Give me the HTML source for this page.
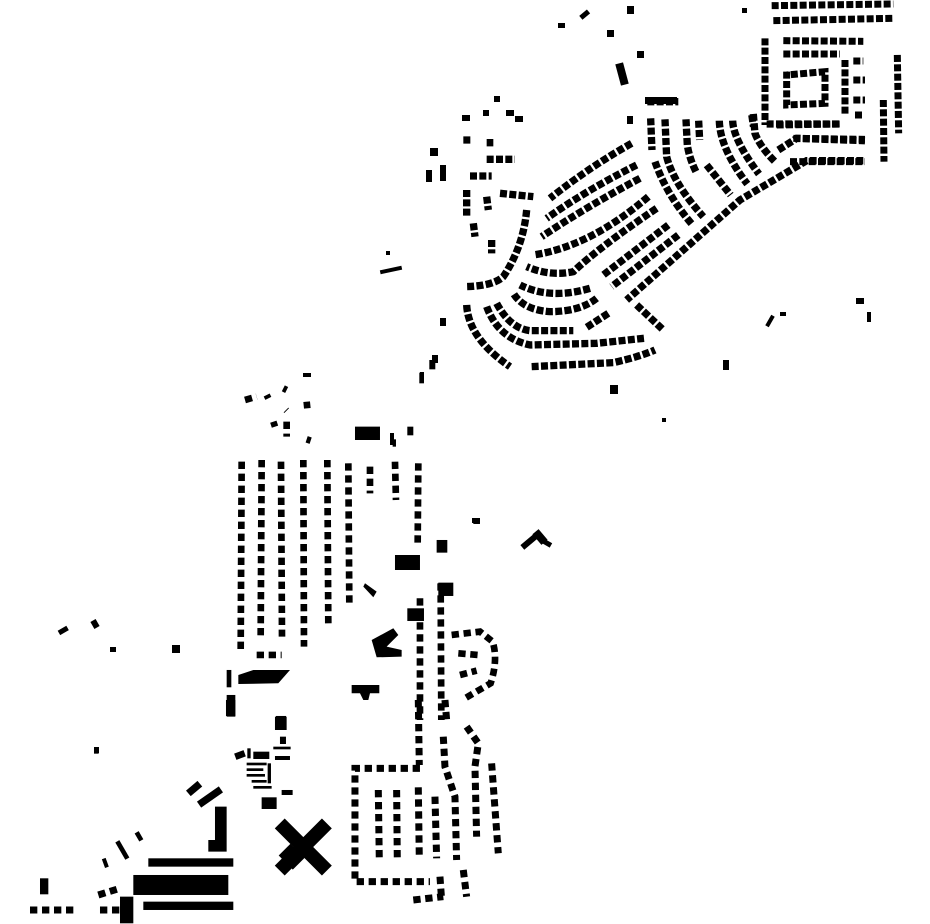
<!DOCTYPE html>
<html><head><meta charset="utf-8"><style>html,body{margin:0;padding:0;background:#fff}svg{display:block}</style></head>
<body>
<svg width="930" height="924" viewBox="0 0 930 924" xmlns="http://www.w3.org/2000/svg">
<rect width="930" height="924" fill="#fff"/>
<g transform="translate(440,90) scale(0.3333)" fill="none" stroke="#000" stroke-width="22" stroke-dasharray="21 7">
<path d="M575,160 Q450,230 330,325"/>
<path d="M590,225 Q440,300 320,385"/>
<path d="M600,265 Q440,350 305,440"/>
<path d="M625,320 Q450,470 280,495"/>
<path d="M650,355 Q480,470 400,545 Q330,560 260,530"/>
<path d="M685,405 L490,555"/>
<path d="M715,435 L515,590"/>
<path d="M450,595 Q330,630 240,585"/>
<path d="M470,625 Q420,665 330,665 Q250,660 220,610"/>
<path d="M260,360 Q250,470 190,560 Q160,588 75,590"/>
<path d="M170,640 Q210,715 270,722 L400,722"/>
<path d="M505,670 L440,712"/>
<path d="M140,650 Q175,745 270,765 L470,760 L612,745"/>
<path d="M80,645 Q85,745 210,830"/>
<path d="M275,830 L520,818 Q600,800 645,780"/>
<path d="M1270,212 L1100,212 L900,330 L560,630"/>
<path d="M590,645 L670,720"/>
<path d="M632,85 L636,180"/>
<path d="M675,88 L680,200 Q700,280 790,380"/>
<path d="M645,215 Q680,315 758,405"/>
<path d="M738,88 L742,165 Q748,205 768,245"/>
<path d="M776,92 L779,150"/>
<path d="M800,225 L872,315"/>
<path d="M838,92 Q840,175 922,282"/>
<path d="M878,92 Q880,150 957,252"/>
<path d="M940,72 L945,130 Q960,170 1005,215"/>
<path d="M1015,180 L1070,145 L1275,152"/>
<path d="M980,102 L1200,102"/>
<path d="M622,35 L715,35"/>
<path d="M70,150 L95,150 M140,158 L160,158 M140,208 L225,208 M90,258 L155,258 M180,310 L280,320"/>
<path d="M80,300 L80,380 M140,320 L145,360 M100,400 L105,440 M155,450 L155,490"/>
</g>
<g transform="translate(740,0) scale(0.3333)" fill="none" stroke="#000" stroke-width="21" stroke-dasharray="21 7">
<path d="M95,17 L460,12"/>
<path d="M100,62 L460,55"/>
<path d="M75,115 L75,375"/>
<path d="M130,122 L370,124"/>
<path d="M130,162 L300,162"/>
<path d="M140,215 L140,315 L255,310 L255,215 L140,225"/>
<path d="M315,180 L315,345"/>
<path d="M340,183 L370,183 M340,240 L375,240 M340,300 L375,300 M345,345 L370,345"/>
<path d="M472,165 L476,400"/>
<path d="M430,300 L432,485"/>
<path d="M110,375 L300,372"/>
<path d="M160,415 L375,418"/>
<path d="M150,485 L375,485"/>
<path d="M35,345 L40,380"/>
</g>
<g transform="translate(220,360) scale(0.3333)" fill="none" stroke="#000" stroke-width="20" stroke-dasharray="22 14">
<path d="M65,305 L62,880"/>
<path d="M125,300 L122,835"/>
<path d="M183,305 L186,830"/>
<path d="M250,300 L252,860"/>
<path d="M322,300 L325,800"/>
<path d="M385,310 L388,730"/>
<path d="M450,320 L450,400"/>
<path d="M525,305 L528,420"/>
<path d="M595,310 L593,560"/>
<path d="M600,715 L600,1080"/>
<path d="M662,670 L664,1080"/>
<path d="M695,825 L780,815 L818,845 Q835,900 812,970 L735,1015"/>
<path d="M715,880 L775,885 M720,945 L770,932"/>
<path d="M110,885 L185,885"/>
<path d="M75,120 L110,110 M140,105 L145,115 M190,85 L200,90 M260,125 L262,145 M198,150 L200,152 M160,185 L165,200 M200,185 L200,230 M260,238 L272,242"/>
</g>
<g transform="translate(220,360) scale(0.3333)" fill="#000">
<path d="M405,200 L480,200 L480,240 L405,240Z"/>
<path d="M525,585 L600,585 L600,630 L525,630Z"/>
<path d="M55,945 L100,930 L210,930 L175,970 L55,972Z"/>
<path d="M395,975 L478,975 L478,1000 L450,1000 L445,1020 L430,1020 L420,1000 L395,1000Z"/>
<path d="M455,840 L520,805 L535,825 L500,860 L545,870 L545,890 L470,892Z"/>
<path d="M435,670 L470,695 L460,712 L430,680Z"/>
<rect x="20" y="930" width="14" height="52"/>
<rect x="20" y="1005" width="26" height="65"/>
<rect x="628" y="0" width="18" height="28"/>
<rect x="598" y="38" width="14" height="32"/>
<rect x="562" y="200" width="18" height="26"/>
<rect x="518" y="238" width="10" height="22"/>
<rect x="760" y="478" width="20" height="14"/>
<rect x="650" y="540" width="32" height="38"/>
<rect x="655" y="668" width="45" height="40"/>
<rect x="562" y="745" width="50" height="38"/>
<rect x="168" y="1068" width="30" height="12"/>
</g>
<g transform="translate(20,700) scale(0.3333)" fill="none" stroke="#000" stroke-width="21" stroke-dasharray="22 14">
<path d="M1200,205 L1005,205 L1005,545 L1230,545"/>
<path d="M1075,270 L1078,480"/>
<path d="M1130,270 L1132,480"/>
<path d="M1195,262 L1198,475"/>
<path d="M1245,290 L1250,475"/>
<path d="M1195,0 L1198,195"/>
<path d="M1275,0 L1280,60"/>
<path d="M1270,110 L1275,200 L1305,290 L1310,480"/>
<path d="M1340,80 L1375,130 L1365,200 L1370,410"/>
<path d="M1415,190 L1435,460"/>
<path d="M1330,510 L1340,590"/>
<path d="M1180,600 L1270,590"/>
<path d="M1260,530 L1265,600"/>
<path d="M30,630 L165,630"/>
<path d="M240,630 L300,630"/>
<path d="M235,585 L300,565"/>
</g>
<g transform="translate(20,700) scale(0.3333)" fill="#000">
<path d="M565,320 L620,320 L620,455 L565,455 L565,420 L585,420 L585,320Z"/>
<rect x="385" y="475" width="255" height="25"/>
<rect x="340" y="525" width="285" height="60"/>
<rect x="370" y="605" width="270" height="25"/>
<rect x="300" y="590" width="40" height="80"/>
<rect x="618" y="0" width="28" height="48"/>
<rect x="765" y="50" width="35" height="40"/>
<rect x="780" y="110" width="18" height="22"/>
<rect x="760" y="140" width="52" height="8"/>
<rect x="765" y="168" width="45" height="12"/>
<rect x="700" y="155" width="48" height="22"/>
<rect x="682" y="145" width="10" height="30"/>
<rect x="680" y="188" width="60" height="8"/>
<rect x="680" y="205" width="50" height="8"/>
<rect x="680" y="222" width="55" height="8"/>
<rect x="695" y="240" width="45" height="8"/>
<rect x="743" y="190" width="10" height="60"/>
<rect x="700" y="258" width="55" height="8"/>
<rect x="725" y="292" width="45" height="35"/>
<rect x="785" y="270" width="33" height="15"/>
<rect x="645" y="155" width="30" height="20" transform="rotate(-20 660 165)"/>
<rect x="500" y="255" width="45" height="22" transform="rotate(-40 522 266)"/>
<rect x="530" y="280" width="80" height="22" transform="rotate(-35 570 291)"/>
<rect x="60" y="535" width="25" height="48"/>
<rect x="222" y="145" width="14" height="16"/>
<rect x="350" y="395" width="14" height="28" transform="rotate(-30 357 409)"/>
<rect x="300" y="420" width="14" height="60" transform="rotate(-30 307 450)"/>
<rect x="250" y="475" width="12" height="28" transform="rotate(-20 256 489)"/>
<rect x="750" y="420" width="200" height="42" transform="rotate(45 850 441)"/>
<rect x="750" y="420" width="200" height="42" transform="rotate(-45 850 441)"/>
<rect x="785" y="445" width="60" height="50" transform="rotate(45 815 470)"/>
</g>
<g fill="#000">
<rect x="627" y="6" width="7" height="8"/>
<rect x="558" y="23" width="7" height="5"/>
<rect x="580" y="12" width="10" height="5" transform="rotate(-40 585 15)"/>
<rect x="607" y="30" width="7" height="7"/>
<rect x="637" y="51" width="7" height="7"/>
<rect x="618" y="63" width="8" height="22" transform="rotate(-15 622 74)"/>
<rect x="742" y="8" width="5" height="5"/>
<rect x="380" y="268" width="22" height="4" transform="rotate(-12 391 270)"/>
<rect x="386" y="251" width="4" height="4"/>
<rect x="440" y="318" width="6" height="8"/>
<rect x="432" y="355" width="6" height="8"/>
<rect x="420" y="372" width="4" height="10"/>
<rect x="610" y="385" width="8" height="9"/>
<rect x="723" y="360" width="6" height="10"/>
<rect x="662" y="418" width="4" height="4"/>
<rect x="856" y="298" width="8" height="6"/>
<rect x="867" y="312" width="4" height="10"/>
<rect x="768" y="315" width="4" height="12" transform="rotate(30 770 321)"/>
<rect x="780" y="312" width="6" height="4"/>
<rect x="430" y="148" width="8" height="8"/>
<rect x="426" y="170" width="6" height="12"/>
<rect x="440" y="165" width="6" height="16"/>
<rect x="462" y="115" width="8" height="6"/>
<rect x="483" y="110" width="6" height="6"/>
<rect x="494" y="96" width="6" height="6"/>
<rect x="506" y="110" width="8" height="6"/>
<rect x="515" y="116" width="8" height="6"/>
<rect x="645" y="97" width="32" height="7"/>
<rect x="627" y="116" width="6" height="8"/>
<rect x="520" y="538" width="20" height="6" transform="rotate(-40 530 541)"/>
<rect x="536" y="530" width="8" height="14" transform="rotate(-40 540 537)"/>
<rect x="540" y="540" width="12" height="5" transform="rotate(30 546 542)"/>
<rect x="472" y="518" width="8" height="5"/>
<rect x="390" y="433" width="4" height="12"/>
<rect x="303" y="373" width="8" height="4"/>
<rect x="58" y="628" width="10" height="5" transform="rotate(-30 63 630)"/>
<rect x="92" y="620" width="6" height="8" transform="rotate(-30 95 624)"/>
<rect x="110" y="647" width="6" height="5"/>
<rect x="172" y="645" width="8" height="8"/>
<rect x="94" y="747" width="5" height="6"/>
</g>
</svg>
</body></html>
